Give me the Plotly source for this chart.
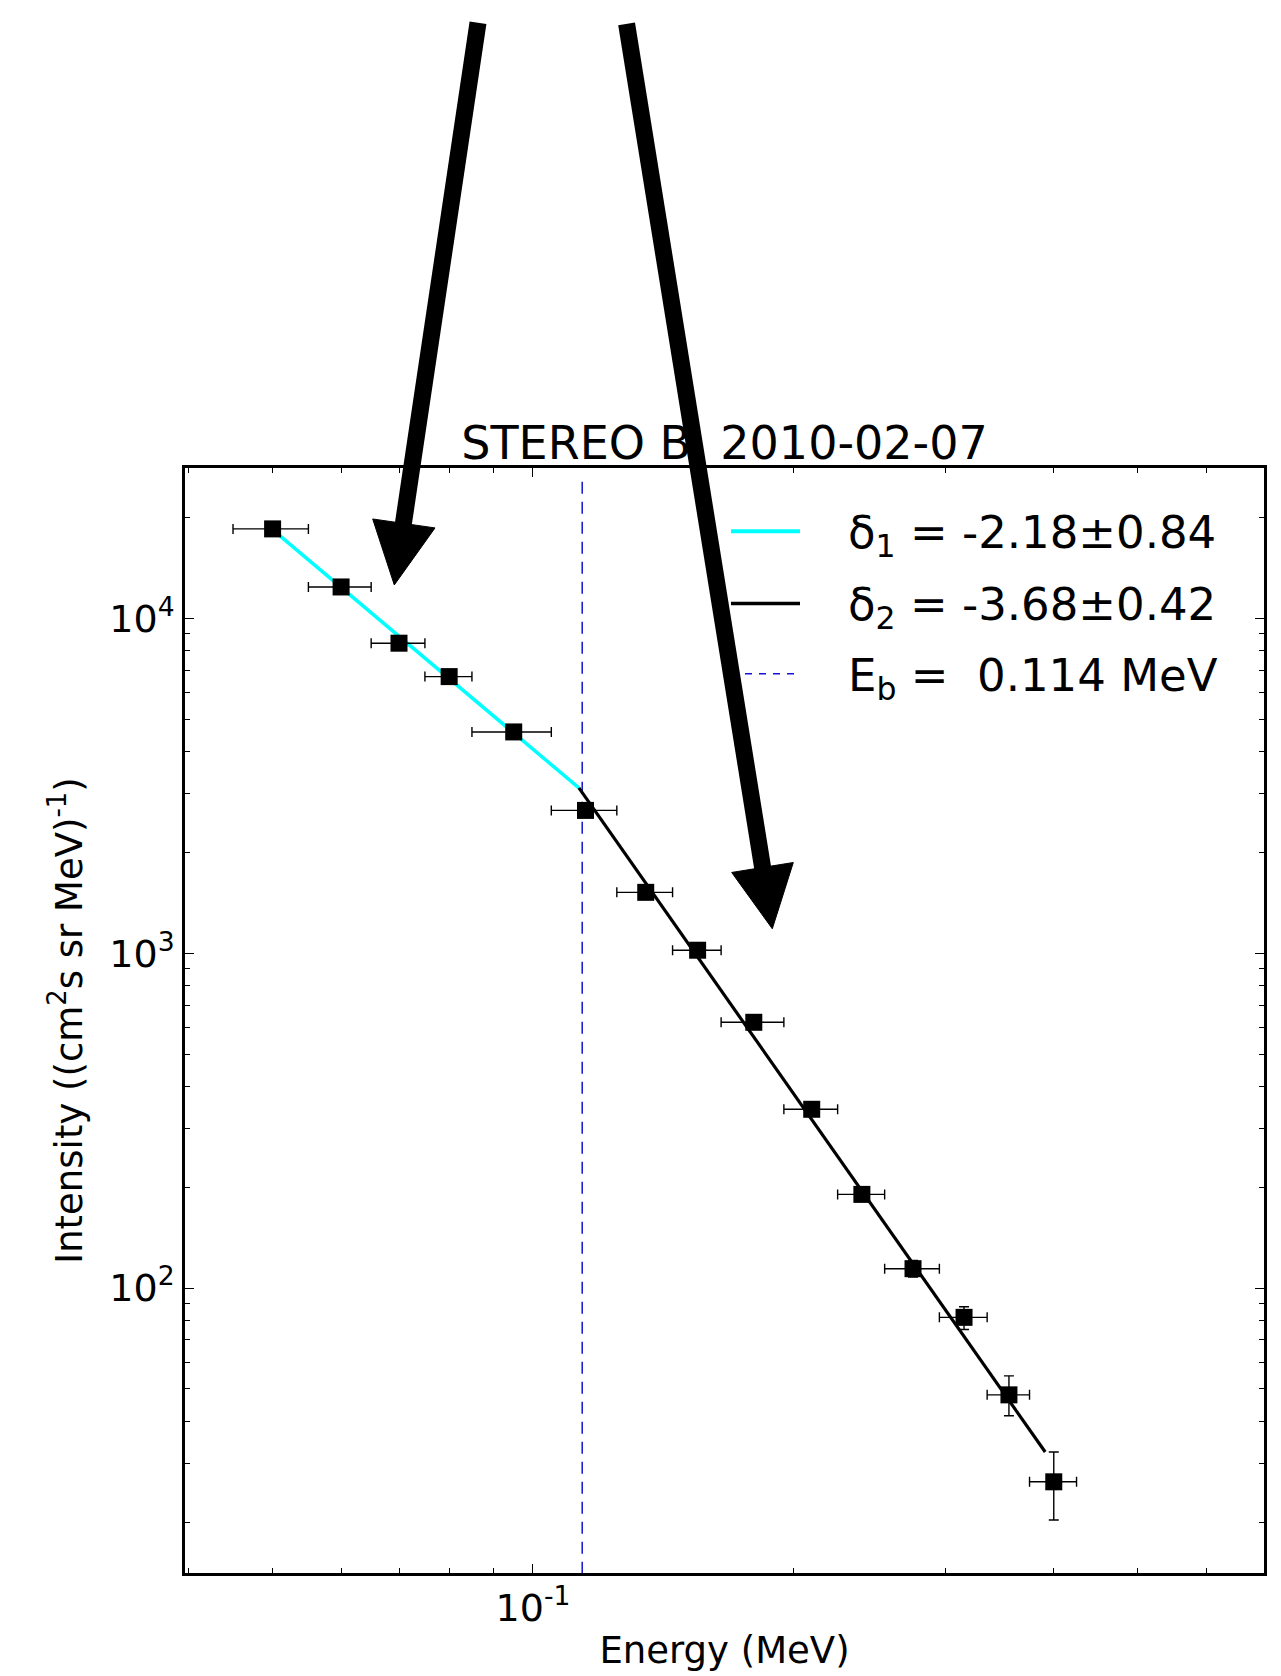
import plotly.graph_objects as go

# ---------------- data ----------------
energy = [0.050, 0.060, 0.070, 0.080, 0.095, 0.115, 0.135, 0.155, 0.180, 0.210,
          0.240, 0.275, 0.315, 0.355, 0.400]
energy_lo = [0.045, 0.055, 0.065, 0.075, 0.085, 0.105, 0.125, 0.145, 0.165, 0.195,
             0.225, 0.255, 0.295, 0.335, 0.375]
energy_hi = [0.055, 0.065, 0.075, 0.085, 0.105, 0.125, 0.145, 0.165, 0.195, 0.225,
             0.255, 0.295, 0.335, 0.375, 0.425]
intensity = [18500, 12410, 8430, 6700, 4580, 2670, 1520, 1021, 622, 342,
             190.5, 114.3, 81.8, 48.0, 26.4]
intensity_lo = [17900, 12000, 8150, 6480, 4430, 2580, 1465, 985, 598, 328,
                182, 108, 75.2, 41.6, 20.3]
intensity_hi = [19100, 12800, 8700, 6920, 4730, 2760, 1575, 1058, 646, 356,
                199, 121, 88.0, 54.7, 32.4]

fit1_x = [0.050, 0.113]
fit1_y = [18400, 3116]
fit2_x = [0.113, 0.391]
fit2_y = [3116, 32.4]

Eb = 0.114
vline_y = [25600, 10]

legend_labels = ["δ<sub>1</sub> = -2.18±0.84",
                 "δ<sub>2</sub> = -3.68±0.42",
                 "E<sub>b</sub> =  0.114 MeV"]

x_tick_vals = [0.1]
x_tick_text = ["10<sup>-1</sup>"]
x_minor_vals = [0.04, 0.05, 0.06, 0.07, 0.08, 0.09, 0.2, 0.3, 0.4, 0.5, 0.6, 0.7]
y_tick_vals = [100, 1000, 10000]
y_tick_text = ["10<sup>2</sup>", "10<sup>3</sup>", "10<sup>4</sup>"]
y_minor_vals = [20, 30, 40, 50, 60, 70, 80, 90,
                200, 300, 400, 500, 600, 700, 800, 900,
                2000, 3000, 4000, 5000, 6000, 7000, 8000, 9000, 20000]

title_text = "STEREO B  2010-02-07"
x_title = "Energy (MeV)"
y_title = "Intensity ((cm<sup>2</sup>s sr MeV)<sup>-1</sup>)"

# ---------------- layout geometry ----------------
W, H = 1281, 1676
L, R, T, B = 185, 1264, 468, 1580
FONT = "DejaVu Sans"


def pxx(x):
    return (x - L) / (R - L)


def pxy(y):
    return (B - y) / (B - T)


fig = go.Figure()

# vertical dashed break line
fig.add_trace(go.Scatter(x=[Eb, Eb], y=vline_y, mode="lines",
                         line=dict(color="#1414d2", width=1.5, dash="12px,8px"),
                         showlegend=False, hoverinfo="skip"))
# fits
fig.add_trace(go.Scatter(x=fit1_x, y=fit1_y, mode="lines",
                         line=dict(color="#00ffff", width=3.5), showlegend=False))
fig.add_trace(go.Scatter(x=fit2_x, y=fit2_y, mode="lines",
                         line=dict(color="black", width=3.2), showlegend=False))
# data with error bars
fig.add_trace(go.Scatter(
    x=energy, y=intensity, mode="markers",
    marker=dict(symbol="square", size=17, color="black"),
    error_x=dict(type="data", symmetric=False,
                 array=[h - e for h, e in zip(energy_hi, energy)],
                 arrayminus=[e - l for e, l in zip(energy, energy_lo)],
                 color="black", thickness=1.4, width=5),
    error_y=dict(type="data", symmetric=False,
                 array=[h - v for h, v in zip(intensity_hi, intensity)],
                 arrayminus=[v - l for v, l in zip(intensity, intensity_lo)],
                 color="black", thickness=1.4, width=5),
    showlegend=False))

axis_common = dict(
    showline=True, linecolor="black", linewidth=2.5, mirror="allticks",
    ticks="inside", ticklen=9, tickwidth=1.2, tickcolor="black",
    showgrid=False, zeroline=False,
    tickfont=dict(family=FONT, size=38, color="black"),
)

fig.update_xaxes(type="log", range=[-1.4023, -0.1549],
                 tickmode="array", tickvals=x_tick_vals, ticktext=x_tick_text,
                 minor=dict(ticks="inside", ticklen=5, tickwidth=1, tickcolor="black",
                            tickmode="array", tickvals=x_minor_vals, showgrid=False),
                 title=dict(text=x_title, font=dict(family=FONT, size=37, color="black"),
                            standoff=8),
                 **axis_common)
fig.update_yaxes(type="log", range=[1.1493, 4.449],
                 tickmode="array", tickvals=y_tick_vals, ticktext=y_tick_text,
                 minor=dict(ticks="inside", ticklen=5, tickwidth=1, tickcolor="black",
                            tickmode="array", tickvals=y_minor_vals, showgrid=False),
                 title=dict(text=y_title, font=dict(family=FONT, size=37, color="black"),
                            standoff=16),
                 **axis_common)

# ---------------- hand drawn legend ----------------
legend_rows_y = [531.7, 604.3, 675.0]
legend_styles = [dict(color="#00ffff", width=4, dash="solid"),
                 dict(color="black", width=3.5, dash="solid"),
                 dict(color="#1414d2", width=1.5, dash="7px,7px")]
shapes = []
annotations = []
for lab, yy, st in zip(legend_labels, legend_rows_y, legend_styles):
    shapes.append(dict(type="line", xref="paper", yref="paper",
                       x0=pxx(731), x1=pxx(800), y0=pxy(yy), y1=pxy(yy),
                       line=st, layer="above"))
    annotations.append(dict(text=lab, xref="paper", yref="paper",
                            x=pxx(846), y=pxy(yy + 4), xanchor="left", yanchor="middle",
                            showarrow=False,
                            font=dict(family=FONT, size=45, color="black")))

# ---------------- two thick arrows ----------------
arrows = [
    dict(tail=(478, 20), head_end=(401, 540),
         tri=[(372.7, 519.3), (435.0, 528.3), (394.3, 585.7)]),
    dict(tail=(626.6, 21), head_end=(765, 885),
         tri=[(731.7, 875.0), (793.3, 865.0), (772.3, 931.7)]),
]
for a in arrows:
    shapes.append(dict(type="line", xref="paper", yref="paper",
                       x0=pxx(a["tail"][0]), y0=pxy(a["tail"][1]),
                       x1=pxx(a["head_end"][0]), y1=pxy(a["head_end"][1]),
                       line=dict(color="black", width=17), layer="above"))
    p = a["tri"]
    path = "M {},{} L {},{} L {},{} Z".format(pxx(p[0][0]), pxy(p[0][1]),
                                             pxx(p[1][0]), pxy(p[1][1]),
                                             pxx(p[2][0]), pxy(p[2][1]))
    shapes.append(dict(type="path", xref="paper", yref="paper", path=path,
                       fillcolor="black", line=dict(color="black", width=1),
                       layer="above"))

fig.update_layout(
    width=W, height=H,
    margin=dict(l=L, r=W - R, t=T, b=H - B, pad=0),
    paper_bgcolor="white", plot_bgcolor="white",
    font=dict(family=FONT, color="black"),
    title=dict(text=title_text, x=0.5, xanchor="center", xref="paper",
               y=1, yref="paper", yanchor="bottom", pad=dict(b=9),
               font=dict(family=FONT, size=46, color="black")),
    shapes=shapes, annotations=annotations,
    showlegend=False,
)

fig.write_html("out.html", config={"displayModeBar": False},
               post_script="document.body.style.margin='0';document.body.style.overflow='hidden';")
